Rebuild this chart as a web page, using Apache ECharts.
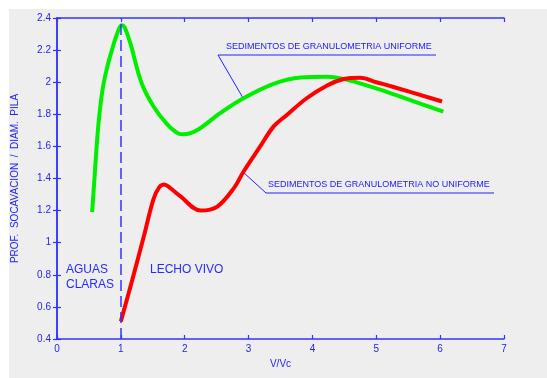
<!DOCTYPE html>
<html>
<head>
<meta charset="utf-8">
<script src="https://cdn.jsdelivr.net/npm/echarts@6/dist/echarts.min.js"></script>
<style>
html,body{margin:0;padding:0;background:#fff;}
#c{width:547px;height:378px;}
</style>
</head>
<body>
<div id="c"></div>
<script>
// Data
var xTicks = [0, 1, 2, 3, 4, 5, 6, 7];
var yTicks = [0.4, 0.6, 0.8, 1, 1.2, 1.4, 1.6, 1.8, 2, 2.2, 2.4];
var uniformX = [0.55, 0.59, 0.63, 0.67, 0.72, 0.79, 0.86, 0.94, 1.01, 1.06, 1.15, 1.32, 1.51, 1.72, 1.90, 1.98, 2.19, 2.55, 2.92, 3.39, 3.81, 4.23, 4.59, 5.01, 5.38, 6.05];
var uniformY = [1.19, 1.42, 1.65, 1.82, 1.97, 2.10, 2.20, 2.30, 2.355, 2.34, 2.24, 2.00, 1.85, 1.74, 1.68, 1.675, 1.70, 1.806, 1.90, 1.99, 2.03, 2.034, 2.01, 1.96, 1.91, 1.816];
var nonUniformX = [1.00, 1.18, 1.36, 1.51, 1.60, 1.68, 1.76, 1.93, 2.25, 2.51, 2.77, 2.92, 3.18, 3.39, 3.60, 3.91, 4.23, 4.49, 4.75, 5.00, 5.27, 6.03];
var nonUniformY = [0.51, 0.77, 1.04, 1.27, 1.345, 1.362, 1.345, 1.29, 1.20, 1.225, 1.34, 1.442, 1.598, 1.723, 1.796, 1.90, 1.98, 2.02, 2.028, 2.0, 1.97, 1.88];
var thresholdX = 1;
var yAxisName = 'PROF.  SOCAVACION  /  DIAM.  PILA';
var xAxisName = 'V/Vc';
var labelUniform = 'SEDIMENTOS DE GRANULOMETRIA UNIFORME';
var labelNonUniform = 'SEDIMENTOS DE GRANULOMETRIA NO UNIFORME';

function pairs(xs, ys) { return xs.map(function (x, i) { return [x, ys[i]]; }); }

var blue = '#3333ff';
var txtBlue = '#2525ee';
var font = 'Liberation Sans, Arial, sans-serif';

var chart = echarts.init(document.getElementById('c'));
var axisCommon = {
  axisLine: { show: true, lineStyle: { color: blue, width: 1.5 } },
  axisTick: { show: true, inside: true, length: 4, lineStyle: { color: blue, width: 1.2 } },
  splitLine: { show: false }
};
chart.setOption({
  backgroundColor: '#eeeeee',
  animation: false,
  grid: { left: 57, top: 18, right: 43, bottom: 39, containLabel: false },
  xAxis: [
    Object.assign({
      type: 'value', position: 'bottom', min: 0, max: 7, interval: 1,
      name: xAxisName, nameLocation: 'middle', nameGap: 19,
      nameTextStyle: { color: txtBlue, fontSize: 10, fontFamily: font },
      axisLabel: { color: txtBlue, fontSize: 10, fontFamily: font, margin: 5 }
    }, axisCommon),
    Object.assign({
      type: 'value', position: 'top', min: 0, max: 7, interval: 1,
      axisLabel: { show: false }
    }, axisCommon)
  ],
  yAxis: [
    Object.assign({
      type: 'value', position: 'left', min: 0.4, max: 2.4, interval: 0.2,
      name: yAxisName, nameLocation: 'middle', nameGap: 37, nameRotate: 90,
      nameTextStyle: { color: txtBlue, fontSize: 10, fontFamily: font },
      axisLabel: { color: txtBlue, fontSize: 10, fontFamily: font, margin: 6,
        formatter: function (v) { return String(Math.round(v * 10) / 10); } }
    }, axisCommon),
    Object.assign({
      type: 'value', position: 'right', min: 0.4, max: 2.4, interval: 0.2,
      axisLabel: { show: false }
    }, axisCommon)
  ],
  series: [
    {
      type: 'line', data: pairs(uniformX, uniformY), smooth: 0.35, showSymbol: false,
      lineStyle: { color: '#00ee00', width: 4 }, z: 3,
      markLine: {
        silent: true, symbol: 'none', label: { show: false },
        lineStyle: { color: '#3333ff', type: [11, 5], width: 1.5 },
        data: [{ xAxis: thresholdX }]
      }
    },
    {
      type: 'line', data: pairs(nonUniformX, nonUniformY), smooth: 0.35, showSymbol: false,
      lineStyle: { color: '#ff0000', width: 4 }, z: 4
    }
  ],
  graphic: [
    { type: 'rect', left: 0, top: 0, shape: { width: 547, height: 9 }, style: { fill: '#ffffff' }, silent: true },
    { type: 'rect', left: 0, top: 0, shape: { width: 9, height: 378 }, style: { fill: '#ffffff' }, silent: true },
    { type: 'text', x: 226, y: 47, style: { text: labelUniform, fill: '#1a1aff', font: '9px ' + font, textAlign: 'left', textVerticalAlign: 'middle' } },
    { type: 'polyline', shape: { points: [[243, 98], [218, 55], [436, 55]] }, style: { stroke: '#2222ff', lineWidth: 1, fill: null } },
    { type: 'text', x: 268, y: 185, style: { text: labelNonUniform, fill: '#1a1aff', font: '9px ' + font, textAlign: 'left', textVerticalAlign: 'middle' } },
    { type: 'polyline', shape: { points: [[243, 172], [266, 193], [494, 193]] }, style: { stroke: '#2222ff', lineWidth: 1, fill: null } },
    { type: 'text', x: 66, y: 270, style: { text: 'AGUAS', fill: '#2a2aff', font: '12px ' + font, textAlign: 'left', textVerticalAlign: 'middle' } },
    { type: 'text', x: 66, y: 285, style: { text: 'CLARAS', fill: '#2a2aff', font: '12px ' + font, textAlign: 'left', textVerticalAlign: 'middle' } },
    { type: 'text', x: 150, y: 270, style: { text: 'LECHO VIVO', fill: '#2a2aff', font: '12px ' + font, textAlign: 'left', textVerticalAlign: 'middle' } }
  ]
});
</script>
</body>
</html>
